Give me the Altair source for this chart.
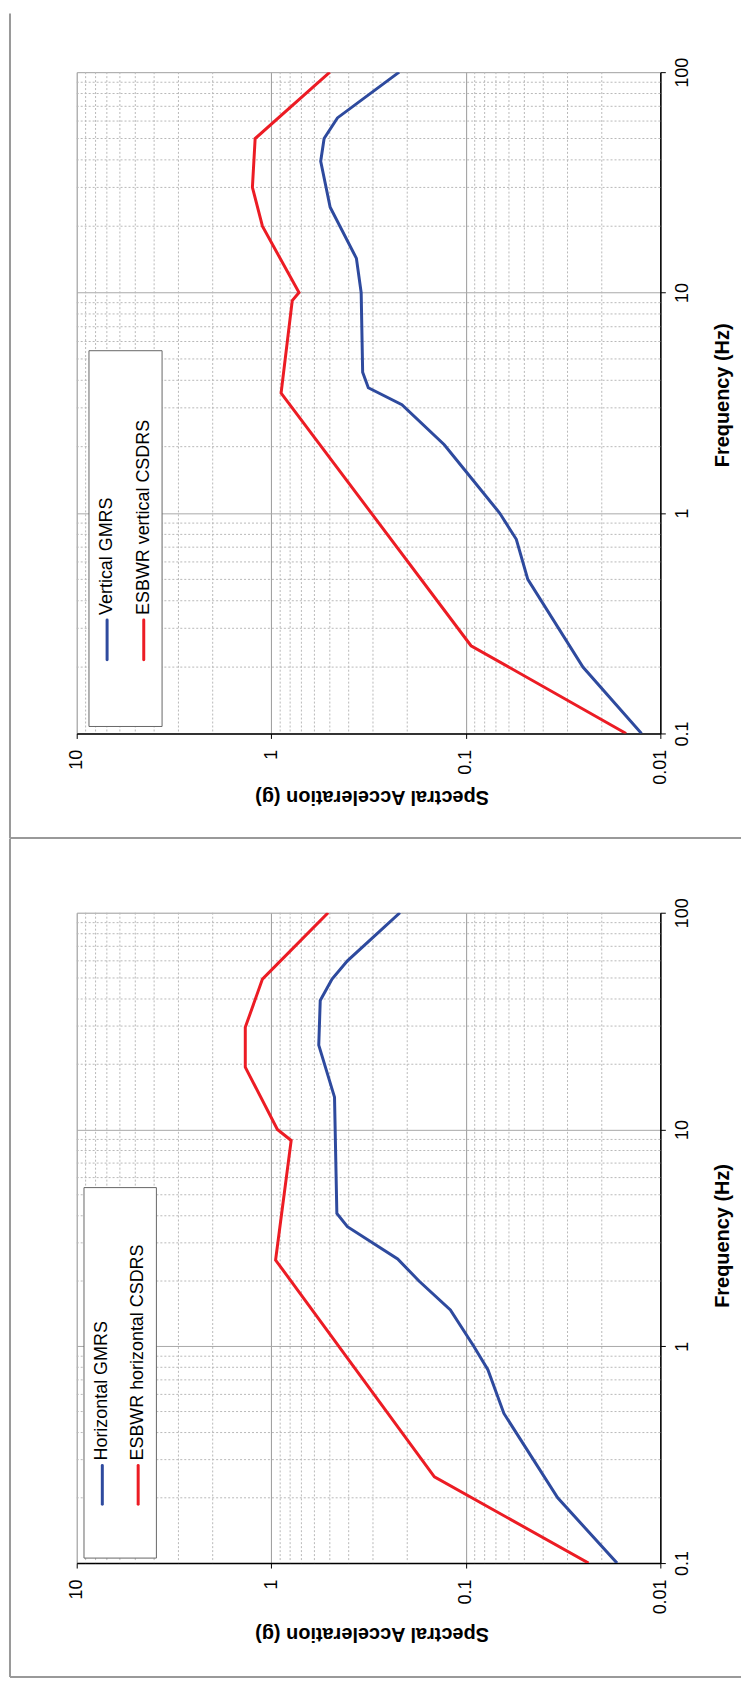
import altair as alt
import pandas as pd

FONT = "Liberation Sans"
BLUE = "#2E4A9E"
RED = "#EC1C24"

# ---- data (frequency in Hz, spectral acceleration in g) ----
v_gmrs_freq = [0.1, 0.2, 0.5, 0.76, 1.0, 1.58, 2.04, 3.1, 3.7, 4.35, 10, 14.3, 24.4, 39.4, 50, 62, 100]
v_gmrs_acc = [0.0125, 0.025, 0.048, 0.055, 0.067, 0.102, 0.129, 0.213, 0.317, 0.339, 0.345, 0.365, 0.498, 0.557, 0.535, 0.457, 0.22]

v_csdrs_freq = [0.1, 0.25, 3.5, 9.2, 10, 20, 30, 50, 100]
v_csdrs_acc = [0.015, 0.094, 0.89, 0.78, 0.72, 1.11, 1.25, 1.21, 0.50]

h_gmrs_freq = [0.1, 0.2, 0.49, 0.78, 1.0, 1.47, 2.0, 2.53, 3.56, 4.1, 14.1, 24.5, 39.4, 49.4, 60, 100]
h_gmrs_acc = [0.0167, 0.0337, 0.0637, 0.077, 0.091, 0.12, 0.174, 0.224, 0.406, 0.46, 0.473, 0.57, 0.56, 0.487, 0.406, 0.218]

h_csdrs_freq = [0.1, 0.25, 2.5, 8.9, 10, 19.4, 29.6, 49.4, 100]
h_csdrs_acc = [0.0234, 0.145, 0.95, 0.79, 0.93, 1.36, 1.36, 1.11, 0.51]

acc_ticks = [0.01, 0.1, 1, 10]
freq_ticks = [0.1, 1, 10, 100]
acc_minor = [0.02, 0.03, 0.04, 0.05, 0.06, 0.07, 0.08, 0.09,
             0.2, 0.3, 0.4, 0.5, 0.6, 0.7, 0.8, 0.9,
             2, 3, 4, 5, 6, 7, 8, 9]
freq_minor = [0.2, 0.3, 0.4, 0.5, 0.6, 0.7, 0.8, 0.9,
              2, 3, 4, 5, 6, 7, 8, 9,
              20, 30, 40, 50, 60, 70, 80, 90]

W = 586


def panel(gf, ga, cf, ca, name_g, name_c, H, leg, frame):
    xs = alt.Scale(type="log", domain=[0.01, 10], reverse=True, nice=False)
    ys = alt.Scale(type="log", domain=[0.1, 100], nice=False)
    xaxis = alt.Axis(
        orient="bottom", values=acc_ticks, format="~g", labelAngle=270,
        labelAlign="right", labelBaseline="middle", labelFontSize=18,
        labelFont=FONT, labelColor="black", labelPadding=11, labelFlush=False,
        labelOverlap=False, tickSize=5, tickColor="black", tickWidth=1,
        domainColor="black", domainWidth=1.5, grid=True, gridColor="#9a9a9a",
        gridWidth=1, title="Spectral Acceleration (g)", titleFont=FONT,
        titleFontSize=20, titleFontWeight="bold", titleColor="black",
        titleAngle=180, titleX=296, titleY=leg["ty"], titleAlign="center",
        titleBaseline="middle")
    yaxis = alt.Axis(
        orient="right", values=freq_ticks, format="~g", labelAngle=270,
        labelAlign="center", labelBaseline="top", labelFontSize=18,
        labelFont=FONT, labelColor="black", labelPadding=8, labelFlush=False,
        labelOverlap=False, tickSize=5, tickColor="black", tickWidth=1,
        domainColor="black", domainWidth=1.5, grid=True, gridColor="#a8a8a8",
        gridWidth=1, title="Frequency (Hz)", titleFont=FONT, titleFontSize=20,
        titleFontWeight="bold", titleColor="black", titleAngle=270, titleX=62,
        titleY=324, titleAlign="center", titleBaseline="middle")

    X = alt.X("acc:Q", scale=xs, axis=xaxis)
    Y = alt.Y("freq:Q", scale=ys, axis=yaxis)

    gx = alt.Chart(pd.DataFrame({"acc": acc_minor})).mark_rule(
        color="#b8b8b8", strokeDash=[2, 2], strokeWidth=1).encode(x=X)
    gy = alt.Chart(pd.DataFrame({"freq": freq_minor})).mark_rule(
        color="#b8b8b8", strokeDash=[2, 2], strokeWidth=1).encode(y=Y)

    df_g = pd.DataFrame({"freq": gf, "acc": ga, "i": range(len(gf))})
    df_c = pd.DataFrame({"freq": cf, "acc": ca, "i": range(len(cf))})
    lg = alt.Chart(df_g).mark_line(color=BLUE, strokeWidth=3, clip=True).encode(
        x=X, y=Y, order="i:Q")
    lc = alt.Chart(df_c).mark_line(color=RED, strokeWidth=3, clip=True).encode(
        x=X, y=Y, order="i:Q")

    one = pd.DataFrame({"k": [0]})
    box = alt.Chart(one).mark_rect(fill="white", stroke="#666666", strokeWidth=1).encode(
        x=alt.value(leg["x1"]), x2=alt.value(leg["x2"]),
        y=alt.value(leg["y1"]), y2=alt.value(leg["y2"]))
    sym_g = alt.Chart(one).mark_rule(color=BLUE, strokeWidth=3, strokeCap="round").encode(
        x=alt.value(leg["xg"]), y=alt.value(leg["ls1"]), y2=alt.value(leg["ls2"]))
    sym_c = alt.Chart(one).mark_rule(color=RED, strokeWidth=3, strokeCap="round").encode(
        x=alt.value(leg["xc"]), y=alt.value(leg["ls1"]), y2=alt.value(leg["ls2"]))
    txt_g = alt.Chart(pd.DataFrame({"t": [name_g]})).mark_text(
        angle=270, align="left", baseline="middle", fontSize=18, font=FONT,
        color="black").encode(x=alt.value(leg["xg"]), y=alt.value(leg["ty0"]), text="t:N")
    txt_c = alt.Chart(pd.DataFrame({"t": [name_c]})).mark_text(
        angle=270, align="left", baseline="middle", fontSize=18, font=FONT,
        color="black").encode(x=alt.value(leg["xc"]), y=alt.value(leg["ty0"]), text="t:N")

    frames = []
    for f in frame:
        d = alt.Chart(one).mark_rule(color="#999999", strokeWidth=2)
        if f[0] == "v":
            frames.append(d.encode(x=alt.value(f[1]), y=alt.value(f[2]), y2=alt.value(f[3])))
        else:
            frames.append(d.encode(y=alt.value(f[1]), x=alt.value(f[2]), x2=alt.value(f[3])))

    return alt.layer(gx, gy, lc, lg, box, sym_g, sym_c, txt_g, txt_c, *frames).properties(
        width=W, height=H)


top = panel(
    v_gmrs_freq, v_gmrs_acc, v_csdrs_freq, v_csdrs_acc,
    "Vertical GMRS", "ESBWR vertical CSDRS", 664,
    dict(x1=12.3, x2=85.7, y1=279.7, y2=657, xg=30.5, xc=67.3, ls1=550, ls2=590,
         ty0=545, ty=63),
    [("v", -67, -59, 769), ("h", 769, -67, 667)])

bottom = panel(
    h_gmrs_freq, h_gmrs_acc, h_csdrs_freq, h_csdrs_acc,
    "Horizontal GMRS", "ESBWR horizontal CSDRS", 653,
    dict(x1=7.3, x2=80, y1=276, y2=648, xg=25.7, xc=61.7, ls1=555, ls2=594,
         ty0=550, ty=71),
    [("v", -67, -74.5, 767.5), ("h", 767.5, -67, 667)])

chart = alt.vconcat(top, bottom, spacing=180, bounds="flush").properties(
    padding=0
).configure_view(stroke="#8a8a8a", strokeWidth=2).configure(
    font=FONT, background="white")

chart.save("out.html", embed_options={"renderer": "svg", "actions": False})
